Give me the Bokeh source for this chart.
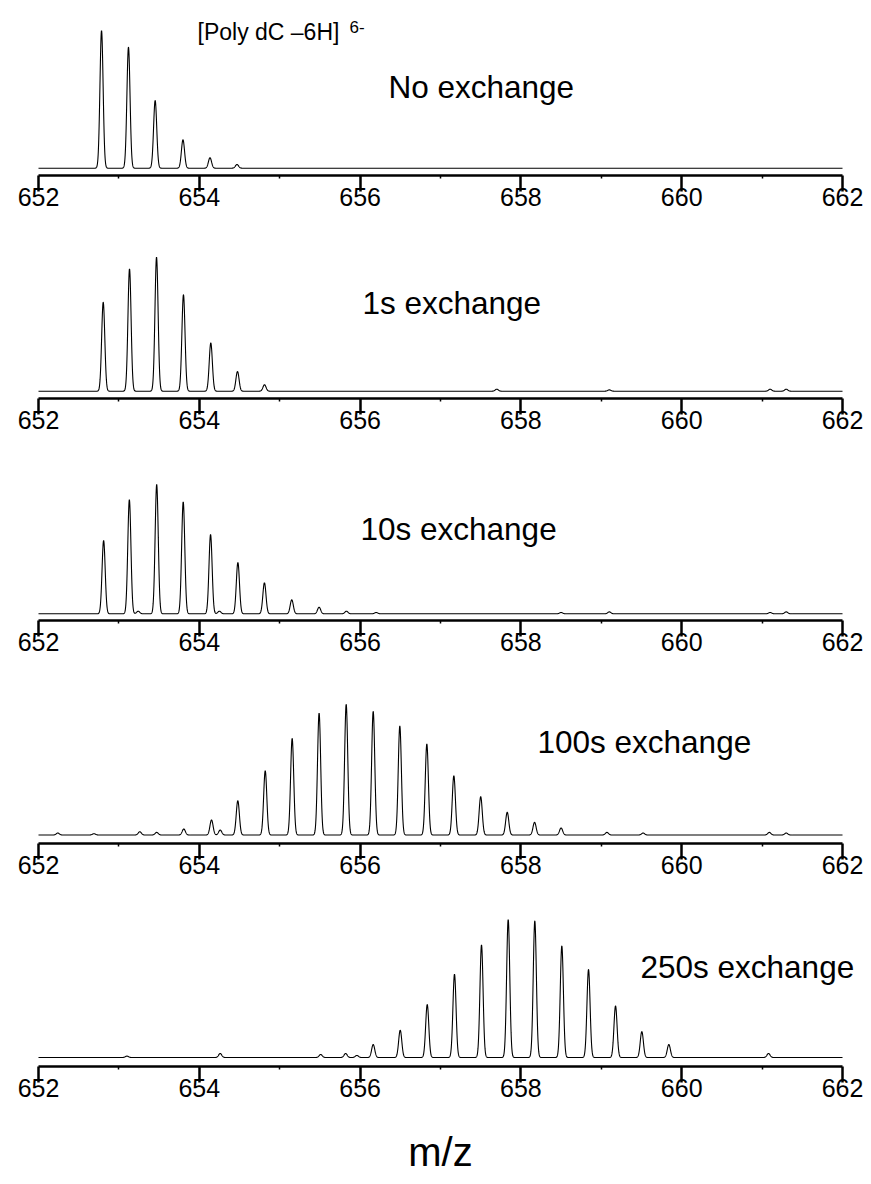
import numpy as np
from bokeh.plotting import figure
from bokeh.layouts import column
from bokeh.models import FixedTicker, Label
from bokeh.embed import file_html
from bokeh.resources import INLINE

# m/z window and axis ticks
MZ_MIN, MZ_MAX = 652.0, 662.0
major_ticks = [652, 654, 656, 658, 660, 662]
minor_ticks = [653, 655, 657, 659, 661]

# Isotope peak lists (centroid m/z, relative intensity %) for each exchange time
mz_0s = [652.784, 653.119, 653.451, 653.797, 654.133, 654.469]
int_0s = [100.0, 87.9, 49.2, 20.6, 7.6, 2.7]

mz_1s = [652.805, 653.132, 653.468, 653.803, 654.143, 654.475, 654.811,
         657.70, 659.10, 661.10, 661.30]
int_1s = [66.4, 91.3, 100.0, 72.0, 36.0, 14.7, 4.8,
          1.5, 1.0, 1.5, 1.5]

mz_10s = [652.81, 653.13, 653.47, 653.80, 654.14, 654.48, 654.81, 655.15,
          655.49, 655.83, 653.24, 654.25, 656.20, 658.50, 659.10, 661.10, 661.30]
int_10s = [56.7, 88.2, 100.0, 86.6, 61.3, 39.7, 24.0, 10.8,
           5.1, 2.0, 2.0, 2.0, 1.0, 1.0, 1.5, 1.0, 1.5]

mz_100s = [653.807, 654.152, 654.479, 654.820, 655.155, 655.490, 655.827,
           656.163, 656.494, 656.830, 657.166, 657.500, 657.830, 658.170,
           658.500, 652.24, 652.69, 653.26, 653.47, 654.26, 659.07, 659.52,
           661.09, 661.30]
int_100s = [4.6, 11.5, 26.2, 49.2, 73.9, 93.3, 100.0,
            94.6, 83.4, 69.6, 45.4, 29.3, 17.4, 9.7,
            5.4, 1.5, 1.0, 2.5, 2.0, 3.8, 2.0, 1.5,
            2.0, 1.5]

mz_250s = [656.163, 656.499, 656.835, 657.174, 657.510, 657.842, 658.173,
           658.509, 658.841, 659.177, 659.504, 659.840, 653.10, 654.26,
           655.51, 655.82, 655.96, 661.08]
int_250s = [9.4, 19.8, 38.4, 60.4, 81.6, 100.0, 99.0,
            80.9, 63.8, 37.4, 18.8, 9.4, 1.0, 2.9,
            2.2, 2.9, 1.5, 2.9]

labels = ["No exchange", "1s exchange", "10s exchange", "100s exchange", "250s exchange"]
peak_sets = [(mz_0s, int_0s), (mz_1s, int_1s), (mz_10s, int_10s),
             (mz_100s, int_100s), (mz_250s, int_250s)]

# page geometry (pixels): figure tops, axis-line rows, baseline offset, tallest-peak height
fig_top = [0, 250, 470, 692, 915]
axis_row = [175, 398, 620, 843, 1066]
base_off = [7.3, 7.3, 6.7, 8.5, 9.0]
peak_px = [137.7, 134.0, 129.3, 130.7, 138.0]
page_w, page_h = 871, 1184
# label anchors (left x, vertical centre) in page pixels
label_pos = [(388, 86), (362, 302), (360, 528), (537, 741), (640, 966)]

# axis spans 652..662 between these pixel columns; the plot frame is widened
# symmetrically so the centred axis title sits under the middle of the axis
LEFT, RIGHT = 38, 842
PAD = page_w - RIGHT
PX_PER_MZ = (RIGHT - LEFT) / (MZ_MAX - MZ_MIN)
X_START = MZ_MIN - PAD / PX_PER_MZ
X_END = MZ_MAX + PAD / PX_PER_MZ
SIGMA = 0.0195
grid = np.arange(MZ_MIN, MZ_MAX + 1e-9, 0.002)

SANS = "Liberation Sans"


def profile(mzs, ints):
    y = np.zeros_like(grid)
    for m, h in zip(mzs, ints):
        y += h * np.exp(-0.5 * ((grid - m) / SIGMA) ** 2)
    return y


def px_to_mz(px):
    return MZ_MIN + (px - LEFT) / PX_PER_MZ


figs = []
for i in range(5):
    top = fig_top[i]
    bottom = fig_top[i + 1] if i < 4 else page_h
    frame_h = axis_row[i] - top
    scale = peak_px[i] / 100.0
    y0 = -base_off[i] / scale
    y1 = y0 + frame_h / scale

    p = figure(width=page_w, height=bottom - top,
               x_range=(X_START, X_END), y_range=(y0, y1),
               output_backend="svg", toolbar_location=None,
               y_axis_location=None,
               min_border_left=LEFT - PAD, min_border_right=0,
               min_border_top=0, min_border_bottom=bottom - axis_row[i])
    p.grid.visible = False
    p.outline_line_color = None
    p.background_fill_color = "white"
    p.border_fill_color = "white"

    ax = p.xaxis[0]
    ax.bounds = (MZ_MIN, MZ_MAX)
    ax.ticker = FixedTicker(ticks=major_ticks, minor_ticks=minor_ticks)
    ax.axis_line_width = 2.5
    ax.axis_line_color = "black"
    ax.major_tick_line_width = 2.5
    ax.major_tick_line_color = "black"
    ax.major_tick_out = 16
    ax.major_tick_in = 0
    ax.minor_tick_line_width = 1.5
    ax.minor_tick_line_color = "black"
    ax.minor_tick_out = 3
    ax.minor_tick_in = 0
    ax.major_label_standoff = -4
    ax.major_label_text_font = SANS
    ax.major_label_text_font_size = "25px"
    ax.major_label_text_color = "black"

    mzs, ints = peak_sets[i]
    p.line(grid, profile(mzs, ints), line_color="black", line_width=1.1)

    def ydata(Y):
        return y0 + (axis_row[i] - Y) / scale

    lx, ly = label_pos[i]
    p.add_layout(Label(x=px_to_mz(lx), y=ydata(ly), text=labels[i],
                       text_font=SANS, text_font_size="31.5px",
                       text_color="black", text_align="left", text_baseline="middle"))
    if i == 0:
        p.add_layout(Label(x=px_to_mz(197), y=ydata(31), text="[Poly dC \u20136H]",
                           text_font=SANS, text_font_size="23px",
                           text_color="black", text_align="left", text_baseline="middle"))
        p.add_layout(Label(x=px_to_mz(349), y=ydata(26), text="6-",
                           text_font=SANS, text_font_size="17px",
                           text_color="black", text_align="left", text_baseline="middle"))
    if i == 4:
        ax.axis_label = "m/z"
        ax.axis_label_text_font = SANS
        ax.axis_label_text_font_style = "normal"
        ax.axis_label_text_font_size = "40px"
        ax.axis_label_text_color = "black"
        ax.axis_label_standoff = 30
    figs.append(p)

layout = column(*figs, spacing=0)
open("out.html", "w").write(file_html(layout, INLINE))
